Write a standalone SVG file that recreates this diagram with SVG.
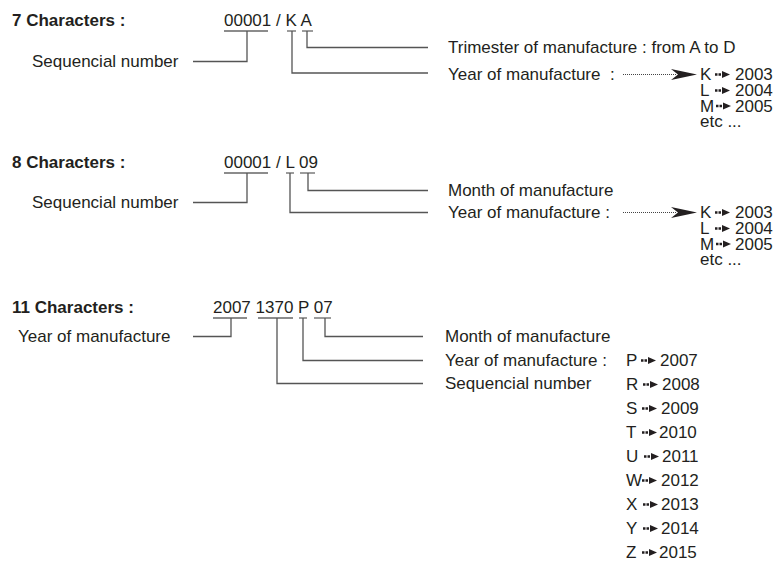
<svg xmlns="http://www.w3.org/2000/svg" xmlns:xlink="http://www.w3.org/1999/xlink" width="783" height="561" viewBox="0 0 783 561">
<style>
text{font-family:"Liberation Sans",Arial,sans-serif;font-size:17px;fill:#231f20}
.b{font-weight:bold}
.c{fill:none;stroke:#555;stroke-width:1.3}
.u{fill:none;stroke:#666;stroke-width:1.3}
</style>
<defs>
<g id="sa"><line x1="0" y1="0" x2="8" y2="0" stroke="#231f20" stroke-width="2.6" stroke-dasharray="2.5,1"/><polygon points="7,-3.6 15,0 7,3.6" fill="#231f20"/></g>
<g id="ba"><line x1="-74" y1="0" x2="-20" y2="0" stroke="#444" stroke-width="1" stroke-dasharray="1,1"/><path d="M0,0 L-26,-5.5 L-19,0 L-26,5.5 Z" fill="#231f20"/></g>
</defs>
<rect width="783" height="561" fill="#fff"/>

<g id="connectors">
<!-- section 1 -->
<line class="u" x1="224" y1="31" x2="268" y2="31"/>
<line class="u" x1="287" y1="31" x2="296" y2="31"/>
<line class="u" x1="302" y1="31" x2="313" y2="31"/>
<polyline class="c" points="193,61.5 247,61.5 247,31"/>
<polyline class="c" points="428,47.5 307,47.5 307,31"/>
<polyline class="c" points="428,73 292,73 292,31"/>
<use xlink:href="#ba" x="697" y="74.5"/>
<!-- section 2 -->
<line class="u" x1="224" y1="173" x2="268" y2="173"/>
<line class="u" x1="286" y1="173" x2="294" y2="173"/>
<line class="u" x1="300" y1="173" x2="315" y2="173"/>
<polyline class="c" points="193,202.5 247,202.5 247,173"/>
<polyline class="c" points="428,190.5 308,190.5 308,173"/>
<polyline class="c" points="428,212.5 290,212.5 290,173"/>
<use xlink:href="#ba" x="697" y="212.5"/>
<!-- section 3 -->
<line class="u" x1="213" y1="318" x2="247" y2="318"/>
<line class="u" x1="258" y1="318" x2="293" y2="318"/>
<line class="u" x1="299" y1="318" x2="307" y2="318"/>
<line class="u" x1="314" y1="318" x2="331" y2="318"/>
<polyline class="c" points="193,336.5 231,336.5 231,318"/>
<polyline class="c" points="423,336.5 325,336.5 325,318"/>
<polyline class="c" points="423,360.5 303,360.5 303,318"/>
<polyline class="c" points="423,383.5 277,383.5 277,318"/>
</g>

<g id="sec1-title"><text class="b" x="12" y="26">7 Characters :</text></g>
<g id="sec1-code"><text x="224" y="26">00001 / K A</text></g>
<g id="sec1-seq"><text x="32" y="67">Sequencial number</text></g>
<g id="sec1-trim"><text x="448" y="53">Trimester of manufacture : from A to D</text></g>
<g id="sec1-year"><text x="448" y="80" xml:space="preserve">Year of manufacture  :</text></g>
<g id="sec1-list">
<text x="700" y="80">K</text><use xlink:href="#sa" x="715" y="74.5"/><text x="735" y="80">2003</text>
<text x="700" y="96">L</text><use xlink:href="#sa" x="715" y="90.5"/><text x="735" y="96">2004</text>
<text x="700" y="111.5">M</text><use xlink:href="#sa" x="716" y="106"/><text x="735" y="111.5">2005</text>
<text x="700" y="127">etc ...</text>
</g>

<g id="sec2-title"><text class="b" x="12" y="168">8 Characters :</text></g>
<g id="sec2-code"><text x="224" y="168">00001 / L 09</text></g>
<g id="sec2-seq"><text x="32" y="208">Sequencial number</text></g>
<g id="sec2-month"><text x="448" y="196">Month of manufacture</text></g>
<g id="sec2-year"><text x="448" y="218">Year of manufacture :</text></g>
<g id="sec2-list">
<text x="700" y="218">K</text><use xlink:href="#sa" x="715" y="212.5"/><text x="735" y="218">2003</text>
<text x="700" y="234">L</text><use xlink:href="#sa" x="715" y="228.5"/><text x="735" y="234">2004</text>
<text x="700" y="249.5">M</text><use xlink:href="#sa" x="716" y="244"/><text x="735" y="249.5">2005</text>
<text x="700" y="265">etc ...</text>
</g>

<g id="sec3-title"><text class="b" x="12" y="313">11 Characters :</text></g>
<g id="sec3-code"><text x="213" y="313">2007 1370 P 07</text></g>
<g id="sec3-year-left"><text x="18" y="342">Year of manufacture</text></g>
<g id="sec3-month"><text x="445" y="342">Month of manufacture</text></g>
<g id="sec3-year"><text x="445" y="366">Year of manufacture :</text></g>
<g id="sec3-seq"><text x="445" y="389">Sequencial number</text></g>
<g id="sec3-list">
<text x="626" y="366">P</text><use xlink:href="#sa" x="641" y="360.5"/><text x="660" y="366">2007</text>
<text x="626" y="390">R</text><use xlink:href="#sa" x="643" y="384.5"/><text x="662" y="390">2008</text>
<text x="626" y="414">S</text><use xlink:href="#sa" x="642" y="408.5"/><text x="661" y="414">2009</text>
<text x="626" y="438">T</text><use xlink:href="#sa" x="642" y="432.5"/><text x="659" y="438">2010</text>
<text x="626" y="462">U</text><use xlink:href="#sa" x="644" y="456.5"/><text x="662" y="462">2011</text>
<text x="626" y="486">W</text><use xlink:href="#sa" x="642" y="480.5"/><text x="661" y="486">2012</text>
<text x="626" y="510">X</text><use xlink:href="#sa" x="643" y="504.5"/><text x="661" y="510">2013</text>
<text x="626" y="534">Y</text><use xlink:href="#sa" x="643" y="528.5"/><text x="661" y="534">2014</text>
<text x="626" y="558">Z</text><use xlink:href="#sa" x="642" y="552.5"/><text x="659" y="558">2015</text>
</g>
</svg>
